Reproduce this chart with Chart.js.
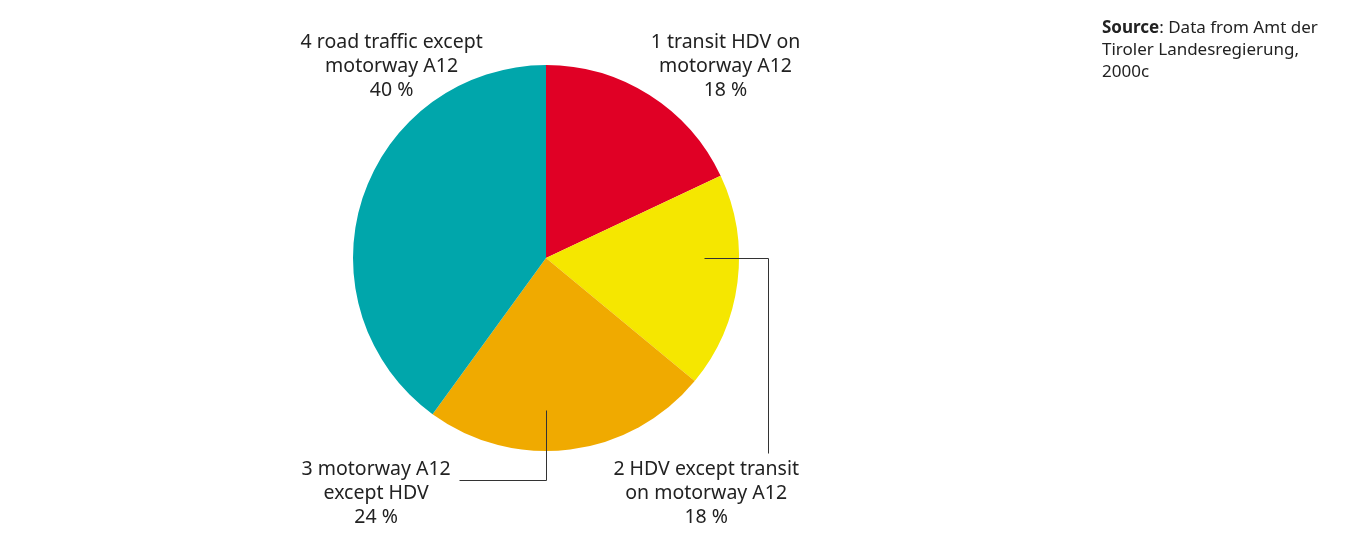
<!DOCTYPE html>
<html>
<head>
<meta charset="utf-8">
<script src="https://cdn.jsdelivr.net/npm/chart.js@4"></script>
<style>
  html, body { margin: 0; padding: 0; background: #fff; }
  #wrap { width: 1360px; height: 541px; position: relative; }
</style>
</head>
<body>
<div id="wrap"><canvas id="chart"></canvas></div>
<script>
"use strict";

// data
const categories = [
    ["1 transit HDV on", "motorway A12"],
    ["2 HDV except transit", "on motorway A12"],
    ["3 motorway A12", "except HDV"],
    ["4 road traffic except", "motorway A12"]
];
const shares = [18, 18, 24, 40];
const sliceColors = ["#E00025", "#F5E700", "#F0AA00", "#00A6AB"];

// where the middle line of each label sits, in pie radii from the centre
const labelSpots = [[0.93, -0.99], [0.83, 1.22], [-0.88, 1.22], [-0.80, -0.99]];
// leader lines (only slices 2 and 3 have one), in pie radii
const leaders = {
    1: [[0.82, 0], [1.15, 0], [1.15, 1.01]],
    2: [[0, 0.79], [0, 1.15], [-0.45, 1.15]]
};

const FONT = "'Noto Sans', 'Open Sans', sans-serif";

const labelPlugin = {
    id: "pieLabels",
    afterDraw(chart) {
        const ctx = chart.ctx;
        const arcs = chart.getDatasetMeta(0).data;
        ctx.save();
        arcs.forEach((arc, i) => {
            const r = arc.outerRadius;
            const pts = leaders[i];
            if (pts) {
                ctx.strokeStyle = "#333";
                ctx.lineWidth = 1;
                ctx.beginPath();
                pts.forEach((p, k) => {
                    const x = Math.round(arc.x + p[0] * r) + 0.5;
                    const y = Math.round(arc.y + p[1] * r) + 0.5;
                    if (k === 0) ctx.moveTo(x, y); else ctx.lineTo(x, y);
                });
                ctx.stroke();
            }
            const lx = arc.x + labelSpots[i][0] * r;
            const ly = arc.y + labelSpots[i][1] * r;
            const lines = categories[i].concat([shares[i] + " %"]);
            ctx.fillStyle = "#222";
            ctx.font = "19.5px " + FONT;
            ctx.textAlign = "center";
            ctx.textBaseline = "middle";
            lines.forEach((t, k) => ctx.fillText(t, lx, ly + (k - 1) * 24));
        });

        // source note
        ctx.textAlign = "left";
        ctx.textBaseline = "middle";
        ctx.font = "bold 17px " + FONT;
        ctx.fillStyle = "#222";
        const sx = 1102;
        ctx.fillText("Source", sx, 28);
        const w = ctx.measureText("Source").width;
        ctx.font = "17px " + FONT;
        ctx.fillText(": Data from Amt der", sx + w, 28);
        ctx.fillText("Tiroler Landesregierung,", sx, 50);
        ctx.fillText("2000c", sx, 72);
        ctx.restore();
    }
};

new Chart(document.getElementById("chart"), {
    type: "pie",
    data: {
        labels: categories.map(c => c.join(" ")),
        datasets: [{
            data: shares,
            backgroundColor: sliceColors,
            borderWidth: 0
        }]
    },
    options: {
        responsive: true,
        maintainAspectRatio: false,
        animation: false,
        layout: {
            padding: { left: 353, right: 621, top: 65, bottom: 90 }
        },
        plugins: {
            legend: { display: false },
            tooltip: { enabled: false }
        }
    },
    plugins: [labelPlugin]
});
</script>
</body>
</html>
